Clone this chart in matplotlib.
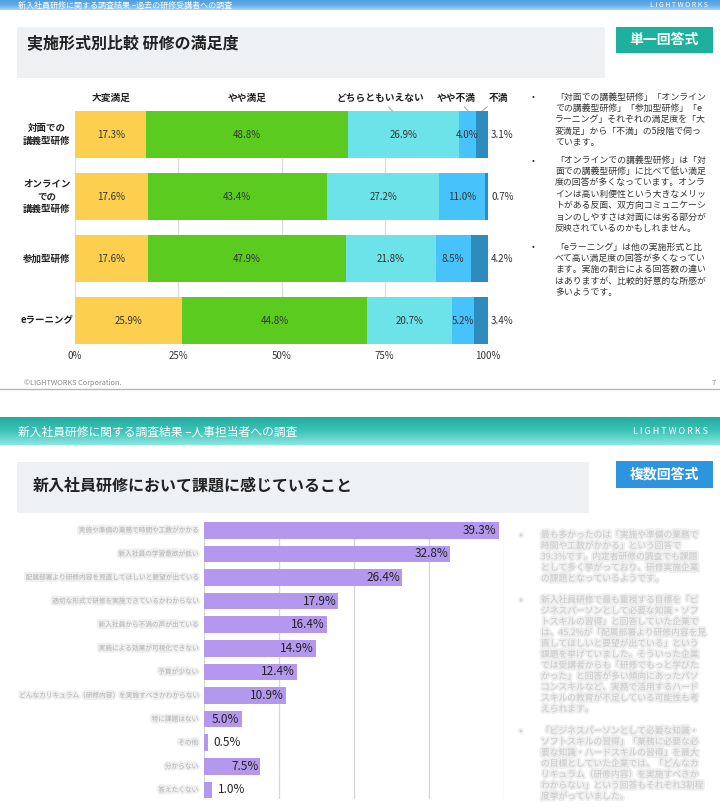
import matplotlib.pyplot as plt
import matplotlib.patheffects as pe
import matplotlib.transforms as mtransforms
from matplotlib.patches import Rectangle
from matplotlib.colors import LinearSegmentedColormap
import numpy as np

plt.rcParams['font.family'] = ['Noto Sans CJK JP', 'DejaVu Sans']

W, H = 720, 810

# slide 1: satisfaction by training format
formats = ['対面での\n講義型研修', 'オンライン\nでの\n講義型研修', '参加型研修', 'eラーニング']
levels = ['大変満足', 'やや満足', 'どちらともいえない', 'やや不満', '不満']
very_satisfied = [17.3, 17.6, 17.6, 25.9]
satisfied = [48.8, 43.4, 47.9, 44.8]
neutral = [26.9, 27.2, 21.8, 20.7]
dissatisfied = [4.0, 11.0, 8.5, 5.2]
very_dissatisfied = [3.1, 0.7, 4.2, 3.4]
level_colors = ['#fdcf4f', '#5bcc1f', '#6ce3e8', '#47c3fb', '#2d8bbd']
pct_ticks = [0, 25, 50, 75, 100]

notes1 = [
    ['「対面での講義型研修」「オンライン', 'での講義型研修」「参加型研修」「e',
     'ラーニング」それぞれの満足度を「大', '変満足」から「不満」の5段階で伺っ', 'ています。'],
    ['「オンラインでの講義型研修」は「対', '面での講義型研修」に比べて低い満足',
     '度の回答が多くなっています。オンラ', 'インは高い利便性という大きなメリッ',
     'トがある反面、双方向コミュニケーシ', 'ョンのしやすさは対面には劣る部分が',
     '反映されているのかもしれません。'],
    ['「eラーニング」は他の実施形式と比', 'べて高い満足度の回答が多くなってい',
     'ます。実施の割合による回答数の違い', 'はありますが、比較的好意的な所感が', '多いようです。'],
]

# slide 2: issues felt in new-hire training (multiple answers)
issues = ['実施や準備の業務で時間や工数がかかる', '新入社員の学習意欲が低い',
          '配属部署より研修内容を見直してほしいと要望が出ている',
          '適切な形式で研修を実施できているかわからない', '新入社員から不満の声が出ている',
          '実施による効果が可視化できない', '予算が少ない',
          'どんなカリキュラム（研修内容）を実施すべきかわからない',
          '特に課題はない', 'その他', '分からない', '答えたくない']
issue_pct = [39.3, 32.8, 26.4, 17.9, 16.4, 14.9, 12.4, 10.9, 5.0, 0.5, 7.5, 1.0]
issue_ticks = [0, 10, 20, 30, 40]

notes2 = [
    ['最も多かったのは「実施や準備の業務で', '時間や工数がかかる」という回答で',
     '39.3%です。内定者研修の調査でも課題', 'として多く挙がっており、研修実施企業',
     'の課題となっているようです。'],
    ['新入社員研修で最も重視する目標を「ビ', 'ジネスパーソンとして必要な知識・ソフ',
     'トスキルの習得」と回答していた企業で', 'は、45.2%が「配属部署より研修内容を見',
     '直してほしいと要望が出ている」という', '課題を挙げていました。そういった企業',
     'では受講者からも「研修でもっと学びた', 'かった」と回答が多い傾向にあったパソ',
     'コンスキルなど、実務で活用するハード', 'スキルの教育が不足している可能性も考',
     'えられます。'],
    ['「ビジネスパーソンとして必要な知識・', 'ソフトスキルの習得」「業務に必要な必',
     '要な知識・ハードスキルの習得」を最大', 'の目標としていた企業では、「どんなカ',
     'リキュラム（研修内容）を実施すべきか', 'わからない」という回答もそれぞれ3割程',
     '度挙がっていました。'],
]

fig = plt.figure(figsize=(W / 100, H / 100), dpi=100)
fig.patch.set_facecolor('white')

# background layer in pixel coordinates
bg = fig.add_axes([0, 0, 1, 1], zorder=0)
bg.axis('off')


def band(y0, y1, colors):
    grad = np.linspace(0, 1, 64)[:, None]
    cmap = LinearSegmentedColormap.from_list('band', colors)
    bg.imshow(grad, extent=(0, W, y1, y0), cmap=cmap, aspect='auto', origin='upper')


def box(x, y, w, h, color):
    bg.add_patch(Rectangle((x, y), w, h, facecolor=color, edgecolor='none'))


# slide 1 frame (its header strip is mostly scrolled out of view)
band(0, 10, ['#4f9fe2', '#62ade9', '#a6d3f5'])
bg.text(18, 5, '新入社員研修に関する調査結果 –過去の研修受講者への調査', color='white',
        fontsize=5.8, va='center')
bg.text(708, 5, 'L I G H T W O R K S', color='white', fontsize=5, va='center', ha='right')
box(17, 27, 588, 51, '#eef1f4')
bg.text(27, 43, '実施形式別比較 研修の満足度', fontsize=11.5, fontweight='bold', color='#222',
        va='center')
box(616, 27, 97, 26, '#1db19d')
bg.text(664.5, 40, '単一回答式', fontsize=10, fontweight='bold', color='white',
        ha='center', va='center')

for p, lines in zip([97, 160, 247], notes1):
    bg.text(533, p, '•', fontsize=6, color='#333', va='center', ha='center')
    for j, line in enumerate(lines):
        bg.text(555, p + j * 11.4, line, fontsize=6.4, color='#333', va='center')

bg.text(24, 383, '©LIGHTWORKS Corporation.', fontsize=5.3, color='#888', va='center')
bg.text(714, 383, '7', fontsize=5.5, color='#888', va='center', ha='center')
bg.plot([0, W], [389, 389], color='#b8b8b8', lw=1)

# slide 2 frame
band(417, 445, ['#22ab9e', '#3ec3b7', '#8ae7e0'])
bg.text(18, 432, '新入社員研修に関する調査結果 –人事担当者への調査', color='white',
        fontsize=8.5, va='center')
bg.text(708, 432, 'L I G H T W O R K S', color='white', fontsize=6.5, va='center', ha='right')
box(17, 462, 572, 51, '#eef1f4')
bg.text(33, 486, '新入社員研修において課題に感じていること', fontsize=11.5, fontweight='bold',
        color='#222', va='center')
box(616, 461, 97, 27, '#2d95df')
bg.text(664.5, 474.5, '複数回答式', fontsize=10, fontweight='bold', color='white',
        ha='center', va='center')

# the reference shows this text blurred out: light grey with a soft halo
blur = [pe.withStroke(linewidth=3, foreground='#ececec', alpha=0.8)]
for p, lines in zip([535, 600, 731], notes2):
    bg.text(521, p, '•', fontsize=6, color='#cfcfcf', va='center', ha='center', path_effects=blur)
    for j, line in enumerate(lines):
        bg.text(541, p + j * 10.9, line, fontsize=6.3, color='#cacaca', va='center',
                path_effects=blur)

bg.set_xlim(0, W)
bg.set_ylim(H, 0)

# ---- chart 1: 100% stacked bars
ax1 = fig.add_axes([75 / W, 1 - 344 / H, 413 / W, 233 / H], zorder=1)
ax1.patch.set_alpha(0)
h1 = 47 / 62
y1 = np.arange(len(formats))
series = [very_satisfied, satisfied, neutral, dissatisfied, very_dissatisfied]
left = np.zeros(len(formats))
for k, (vals, col) in enumerate(zip(series, level_colors)):
    vals = np.array(vals)
    ax1.barh(y1, vals, left=left, height=h1, color=col, zorder=2)
    for i in range(len(y1)):
        if k == len(series) - 1:
            ax1.annotate(f'{vals[i]:.1f}%', xy=(100, y1[i]), xytext=(3, 0),
                         textcoords='offset pixels', ha='left', va='center',
                         fontsize=7, color='#333', annotation_clip=False)
        else:
            ax1.text(left[i] + vals[i] / 2, y1[i], f'{vals[i]:.1f}%', ha='center',
                     va='center', fontsize=7, color='#333', zorder=3)
    left += vals

# level names above the first row
starts = np.cumsum([0] + [s[0] for s in series[:-1]])
name_spec = [(0.5, 0, None), (0.5, 0, None), (0.4, -12, 'line'), (0.55, -12, 'line'),
             (0.5, 16, 'line')]
for name, st, s, (frac, dx, line) in zip(levels, starts, series, name_spec):
    xy = (st + s[0] * frac, -h1 / 2)
    props = dict(arrowstyle='-', color='#999', lw=0.6, shrinkA=1, shrinkB=0) if line else None
    ax1.annotate(name, xy=xy, xytext=(dx, 13), textcoords='offset pixels', ha='center',
                 va='center', fontsize=7, fontweight='bold', color='#222',
                 arrowprops=props, annotation_clip=False)

for t in pct_ticks:
    ax1.axvline(t, color='#dddddd', lw=0.9, zorder=1)
ax1.set_xlim(0, 100)
ax1.set_ylim(len(formats) - 1 + h1 / 2, -h1 / 2)
ax1.set_xticks(pct_ticks, [f'{t}%' for t in pct_ticks])
ax1.set_yticks([])
ax1.tick_params(axis='x', length=0, pad=5, labelsize=7, labelcolor='#333')
for s in ax1.spines.values():
    s.set_visible(False)
tr1 = mtransforms.blended_transform_factory(ax1.transAxes, ax1.transData)
for i, name in enumerate(formats):
    ax1.text(-0.068, i, name, transform=tr1, ha='center', va='center', fontsize=6.8,
             fontweight='bold', color='#222', linespacing=1.35)

# ---- chart 2: horizontal bars
ax2 = fig.add_axes([204 / W, 1 - 799 / H, 300 / W, 277 / H], zorder=1)
ax2.patch.set_alpha(0)
h2 = 0.7
y2 = np.arange(len(issues))
ax2.barh(y2, issue_pct, height=h2, color='#b498ee', zorder=2)
for t in issue_ticks:
    ax2.axvline(t, color='#d6d6d6', lw=0.9, zorder=1)
for i, v in enumerate(issue_pct):
    if v >= 3:
        ax2.annotate(f'{v:.1f}%', xy=(v, i), xytext=(-2, 0), textcoords='offset pixels',
                     ha='right', va='center', fontsize=8.5, color='#222')
    else:
        ax2.annotate(f'{v:.1f}%', xy=(v, i), xytext=(6, 0), textcoords='offset pixels',
                     ha='left', va='center', fontsize=8.5, color='#222')
ax2.set_xlim(0, 40)
ax2.set_ylim(-h2 / 2 + 277 / 23.6, -h2 / 2)
ax2.set_xticks([])
ax2.set_yticks([])
for s in ax2.spines.values():
    s.set_visible(False)
tr2 = mtransforms.blended_transform_factory(ax2.transAxes, ax2.transData)
for i, name in enumerate(issues):
    ax2.text(-0.02, i, name, transform=tr2, ha='right', va='center', fontsize=4.8,
             color='#b4b4b4', path_effects=blur)

fig.savefig('out.png', dpi=100)
plt.close(fig)
